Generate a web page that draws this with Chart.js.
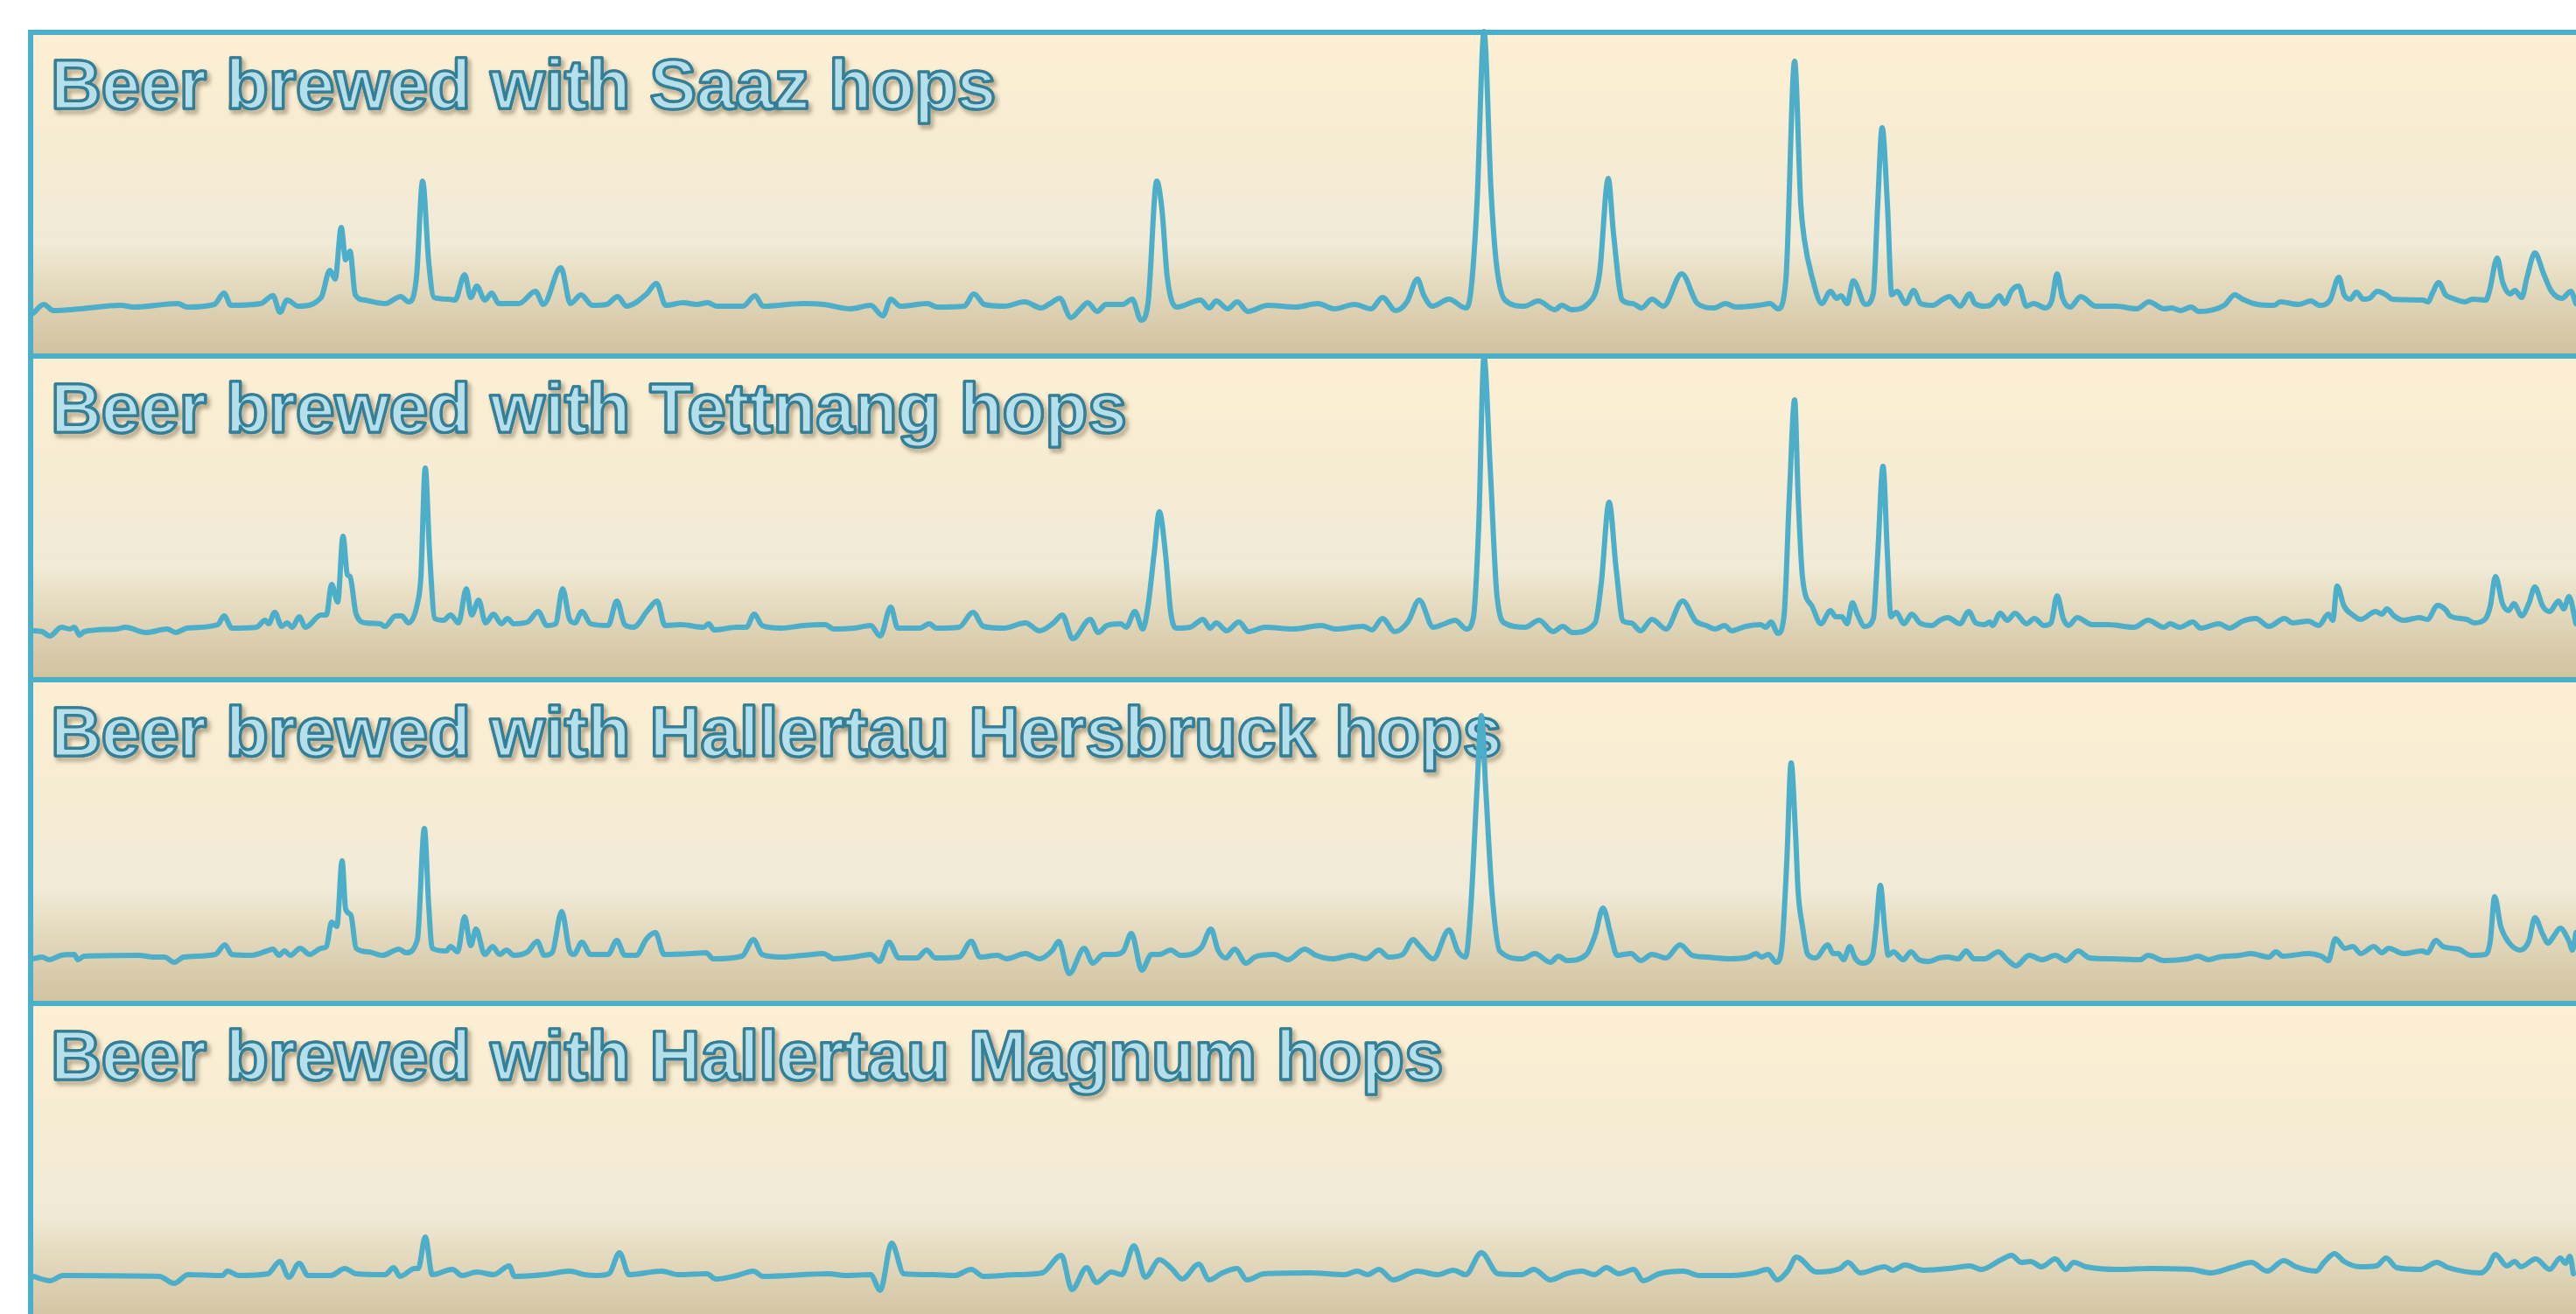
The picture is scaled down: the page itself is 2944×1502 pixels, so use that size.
<!DOCTYPE html>
<html>
<head>
<meta charset="utf-8">
<script src="https://cdn.jsdelivr.net/npm/chart.js@4/dist/chart.umd.min.js"></script>
<style>
  html, body { margin: 0; padding: 0; background: #fff; overflow: hidden; }
  #wrap { position: relative; width: 2944px; height: 1502px; }
  .frame {
    position: absolute; left: 32px; width: 2960px; height: 364px;
    border-top: 6px solid #4aafc8; border-left: 6px solid #4aafc8;
  }
  canvas { position: absolute; left: 38px; }
</style>
</head>
<body>
<div id="wrap"></div>
<script>
// spectra: [channel, intensity]
const saazSpectrum = [
  [38,46],[50,56],[61,49],[92,51],[138,55],[153,53],[203,57],[214,53],[245,56],[256,69],[264,55],[298,57],[312,66],[320,47],
  [328,61],[341,54],[367,64],[377,95],[383,85],[390,144],[395,107],[400,117],[406,67],[417,61],[440,57],[458,65],[467,59],
  [476,87],[483,197],[490,104],[496,64],[513,62],[520,61],[531,90],[538,64],[545,77],[554,61],[562,69],[570,57],[593,57],
  [612,71],[621,56],[641,98],[652,57],[664,67],[677,55],[693,56],[706,65],[716,54],[739,68],[750,80],[761,55],[781,58],
  [796,56],[809,58],[819,54],[849,54],[863,66],[872,54],[918,57],[941,56],[972,51],[995,55],[1009,43],[1018,62],[1029,54],
  [1060,57],[1071,53],[1102,54],[1113,68],[1125,56],[1148,54],[1171,59],[1190,52],[1200,57],[1211,63],[1224,41],[1235,51],
  [1243,58],[1254,48],[1264,56],[1283,56],[1294,62],[1304,38],[1312,57],[1322,197],[1328,164],[1334,87],[1345,53],[1372,61],
  [1382,52],[1390,60],[1403,51],[1414,59],[1426,48],[1449,55],[1481,53],[1506,57],[1525,51],[1548,56],[1567,51],[1580,64],
  [1595,49],[1608,59],[1620,85],[1627,67],[1637,54],[1656,62],[1675,52],[1681,71],[1688,171],[1696,368],[1704,187],[1710,104],
  [1720,61],[1742,54],[1758,60],[1777,50],[1785,55],[1796,50],[1815,57],[1828,91],[1838,200],[1844,137],[1854,61],[1866,57],
  [1876,52],[1888,62],[1901,54],[1922,91],[1940,57],[1959,52],[1972,57],[1984,53],[2010,55],[2023,57],[2032,51],[2041,84],
  [2051,334],[2058,171],[2062,131],[2071,87],[2082,57],[2092,71],[2099,63],[2104,66],[2111,57],[2118,83],[2132,56],[2141,69],
  [2146,171],[2151,258],[2157,171],[2162,67],[2168,71],[2178,57],[2187,72],[2195,57],[2209,55],[2219,61],[2228,65],[2240,54],
  [2251,68],[2257,57],[2269,54],[2276,56],[2285,66],[2291,57],[2299,72],[2307,77],[2316,54],[2324,57],[2338,52],[2345,61],
  [2351,91],[2357,64],[2366,53],[2378,65],[2395,54],[2418,54],[2442,51],[2456,59],[2473,51],[2482,52],[2492,49],[2504,53],
  [2513,48],[2542,55],[2554,67],[2563,62],[2580,56],[2599,55],[2606,59],[2627,56],[2641,60],[2651,55],[2663,61],[2673,87],
  [2679,67],[2686,62],[2693,70],[2701,62],[2708,63],[2717,71],[2727,67],[2734,62],[2769,61],[2775,59],[2780,69],[2787,81],
  [2795,67],[2803,63],[2817,59],[2826,62],[2841,61],[2845,71],[2854,109],[2860,82],[2869,68],[2874,72],[2882,64],[2888,87],
  [2897,115],[2907,91],[2916,71],[2928,63],[2938,71],[2944,57]
];

const tettnangSpectrum = [
  [38,53],[48,52],[57,47],[70,57],[80,55],[85,57],[91,48],[96,52],[134,55],[143,57],[167,51],[191,55],[201,51],[214,56],
  [249,60],[256,70],[265,56],[293,57],[303,65],[307,61],[314,74],[322,58],[328,62],[334,57],[342,69],[349,57],[367,71],
  [373,71],[379,106],[386,86],[392,161],[397,117],[400,115],[407,72],[418,62],[434,61],[440,58],[452,70],[459,70],[467,62],
  [477,84],[481,114],[486,239],[491,141],[497,67],[507,65],[515,71],[524,62],[533,101],[539,71],[547,88],[555,62],[564,72],
  [573,61],[580,67],[587,61],[603,63],[615,75],[625,59],[635,61],[643,101],[651,66],[657,62],[665,75],[675,61],[695,59],
  [705,87],[714,60],[724,57],[740,76],[751,87],[760,59],[778,60],[804,57],[810,61],[816,54],[842,57],[853,57],[862,72],
  [871,59],[893,56],[918,59],[943,60],[953,55],[976,56],[995,59],[1006,47],[1018,80],[1026,56],[1051,56],[1062,61],[1070,56],
  [1096,57],[1112,74],[1124,58],[1147,56],[1172,62],[1188,53],[1204,62],[1214,71],[1226,44],[1246,66],[1255,51],[1265,59],
  [1281,61],[1287,57],[1297,75],[1306,55],[1312,81],[1319,141],[1325,189],[1332,141],[1338,74],[1344,56],[1360,57],[1375,66],
  [1383,56],[1390,62],[1402,53],[1416,63],[1427,52],[1446,57],[1478,55],[1510,59],[1526,55],[1558,58],[1568,54],[1580,67],
  [1594,52],[1609,63],[1622,88],[1638,57],[1651,61],[1663,65],[1676,55],[1684,69],[1690,174],[1696,366],[1703,241],[1711,91],
  [1721,61],[1743,57],[1759,65],[1775,52],[1786,58],[1797,51],[1823,62],[1830,107],[1839,200],[1847,124],[1855,64],[1864,62],
  [1875,53],[1888,66],[1904,55],[1923,87],[1938,64],[1950,59],[1960,55],[1971,59],[1979,53],[1995,58],[2012,60],[2018,57],
  [2024,63],[2032,50],[2039,71],[2045,207],[2051,317],[2055,207],[2060,114],[2071,81],[2081,61],[2092,76],[2098,69],[2105,69],
  [2111,61],[2117,85],[2123,71],[2131,58],[2141,67],[2146,141],[2152,241],[2157,141],[2161,69],[2167,74],[2176,61],[2185,72],
  [2194,62],[2208,59],[2217,65],[2226,68],[2240,61],[2250,75],[2258,62],[2268,60],[2274,63],[2277,59],[2286,73],[2294,65],
  [2303,73],[2316,61],[2325,67],[2336,59],[2344,62],[2351,93],[2358,67],[2364,59],[2374,68],[2391,60],[2409,60],[2439,57],
  [2455,65],[2473,57],[2480,61],[2491,57],[2506,63],[2515,56],[2536,61],[2548,56],[2563,64],[2578,67],[2593,58],[2611,67],
  [2620,62],[2638,64],[2650,59],[2661,72],[2666,65],[2671,104],[2679,81],[2689,71],[2698,66],[2715,75],[2722,72],[2728,78],
  [2736,70],[2747,65],[2765,68],[2774,66],[2786,82],[2795,77],[2800,70],[2819,66],[2828,62],[2840,66],[2846,81],[2852,115],
  [2860,84],[2867,76],[2873,84],[2882,70],[2890,84],[2897,103],[2906,81],[2914,75],[2924,87],[2930,78],[2936,92],[2944,61]
];

const hersbruckSpectrum = [
  [38,48],[48,50],[56,47],[70,52],[85,53],[89,47],[96,51],[159,52],[175,50],[188,50],[199,44],[210,50],[246,53],[257,64],
  [265,53],[287,52],[305,57],[312,59],[319,52],[325,57],[332,52],[343,60],[354,53],[367,60],[373,62],[379,90],[385,85],
  [391,160],[395,105],[401,98],[407,60],[421,56],[437,52],[456,59],[464,55],[477,70],[485,197],[490,108],[494,60],[510,57],
  [515,62],[523,56],[531,96],[538,63],[544,82],[554,53],[563,62],[571,53],[579,58],[587,52],[603,56],[614,68],[622,52],
  [631,55],[642,102],[651,57],[656,53],[665,67],[675,53],[695,53],[705,69],[714,52],[727,52],[739,71],[749,78],[759,53],
  [791,54],[807,55],[815,48],[848,51],[861,70],[871,53],[893,50],[918,52],[941,54],[953,48],[976,50],[995,53],[1005,45],
  [1016,67],[1027,49],[1048,49],[1059,58],[1069,49],[1096,50],[1110,68],[1120,50],[1140,52],[1150,48],[1172,54],[1188,48],
  [1203,58],[1210,68],[1222,31],[1239,60],[1249,43],[1261,53],[1274,53],[1284,57],[1293,77],[1305,35],[1316,53],[1325,53],
  [1338,58],[1349,52],[1373,61],[1384,82],[1392,58],[1401,49],[1411,59],[1424,43],[1434,50],[1456,53],[1472,47],[1491,59],
  [1504,52],[1523,48],[1545,52],[1561,48],[1576,58],[1587,50],[1603,53],[1615,70],[1622,63],[1638,48],[1656,81],[1666,57],
  [1675,50],[1681,108],[1688,242],[1693,326],[1698,242],[1705,125],[1714,57],[1740,48],[1754,54],[1772,44],[1781,51],[1791,46],
  [1813,53],[1823,75],[1832,106],[1841,75],[1848,52],[1864,54],[1875,46],[1888,53],[1904,49],[1920,64],[1934,52],[1950,50],
  [1976,48],[1998,50],[2007,54],[2013,50],[2021,53],[2030,44],[2036,58],[2042,158],[2047,272],[2052,192],[2055,125],[2060,85],
  [2066,53],[2075,49],[2089,64],[2095,54],[2101,54],[2107,47],[2114,62],[2120,49],[2128,43],[2140,52],[2144,82],[2149,132],
  [2154,82],[2158,52],[2164,56],[2175,47],[2184,56],[2193,47],[2205,45],[2216,49],[2226,50],[2238,48],[2247,57],[2256,48],
  [2268,48],[2284,56],[2294,47],[2304,40],[2319,52],[2334,47],[2349,52],[2361,46],[2375,57],[2388,49],[2415,48],[2446,47],
  [2455,52],[2473,46],[2500,48],[2512,51],[2524,47],[2536,50],[2560,52],[2572,54],[2593,50],[2601,56],[2609,51],[2620,52],
  [2638,54],[2653,51],[2661,46],[2669,71],[2680,60],[2689,62],[2698,54],[2713,62],[2722,55],[2730,60],[2747,54],[2768,57],
  [2774,55],[2784,69],[2792,62],[2810,59],[2824,52],[2840,53],[2846,68],[2851,119],[2858,85],[2867,67],[2880,58],[2890,68],
  [2897,95],[2906,76],[2912,66],[2918,73],[2926,83],[2936,68],[2940,58],[2944,78]
];

const magnumSpectrum = [
  [38,55],[57,50],[72,56],[182,55],[199,47],[215,57],[254,56],[260,61],[273,56],[306,58],[320,72],[330,54],[342,70],[352,56],
  [378,56],[394,64],[407,58],[440,57],[450,65],[457,55],[474,64],[478,64],[486,100],[494,57],[517,63],[528,56],[545,60],
  [564,57],[582,67],[588,55],[622,57],[651,61],[668,57],[681,56],[696,58],[708,82],[719,57],[756,61],[775,57],[808,58],
  [818,52],[842,56],[861,61],[872,55],[947,58],[966,56],[995,57],[1006,39],[1019,93],[1033,58],[1067,57],[1091,56],[1110,63],
  [1124,55],[1162,57],[1191,59],[1213,79],[1225,40],[1242,65],[1253,48],[1270,60],[1282,57],[1296,90],[1309,54],[1325,74],
  [1339,64],[1351,52],[1370,69],[1382,51],[1397,59],[1414,64],[1425,51],[1445,58],[1497,59],[1537,57],[1551,61],[1563,57],
  [1576,63],[1592,51],[1620,61],[1643,57],[1661,62],[1675,57],[1693,82],[1712,58],[1739,57],[1753,63],[1772,51],[1790,58],
  [1808,61],[1822,57],[1836,65],[1850,58],[1867,63],[1878,50],[1896,58],[1924,61],[1942,56],[1979,56],[2005,59],[2020,63],
  [2031,51],[2043,61],[2053,77],[2076,60],[2103,64],[2112,71],[2126,59],[2154,66],[2163,62],[2177,68],[2198,62],[2228,64],
  [2251,67],[2264,63],[2287,74],[2299,79],[2310,71],[2321,72],[2333,66],[2349,75],[2361,63],[2370,71],[2384,66],[2421,63],
  [2458,64],[2504,63],[2527,59],[2550,65],[2573,71],[2591,61],[2610,73],[2624,66],[2647,61],[2656,71],[2668,81],[2679,72],
  [2697,66],[2716,67],[2727,76],[2739,65],[2766,63],[2785,71],[2798,65],[2835,59],[2843,65],[2852,80],[2865,67],[2874,72],
  [2881,66],[2898,75],[2914,63],[2926,76],[2932,70],[2937,78],[2941,58]
];

const panelTitles = [
  'Beer brewed with Saaz hops',
  'Beer brewed with Tettnang hops',
  'Beer brewed with Hallertau Hersbruck hops',
  'Beer brewed with Hallertau Magnum hops',
];
const panelSeries = [saazSpectrum, tettnangSpectrum, hersbruckSpectrum, magnumSpectrum];

const PANEL_STEP = 370;
const PANEL_TOP = 34;
const INNER_H = 364;
const PAD_TOP = 14;

const panelBackground = {
  id: 'panelBackground',
  beforeDraw(chart) {
    const { ctx, chartArea: a } = chart;
    const g = ctx.createLinearGradient(0, a.top, 0, a.bottom);
    g.addColorStop(0, '#fdefd2');
    g.addColorStop(0.66, '#f0ead6');
    g.addColorStop(0.74, '#e8dfc5');
    g.addColorStop(0.88, '#dbcfb0');
    g.addColorStop(1, '#d2c3a0');
    ctx.save();
    ctx.fillStyle = g;
    ctx.fillRect(a.left, a.top, a.right - a.left, a.bottom - a.top);
    ctx.restore();
  }
};

const panelTitle = {
  id: 'panelTitle',
  beforeDatasetsDraw(chart, args, opts) {
    const { ctx, chartArea: a } = chart;
    ctx.save();
    ctx.font = 'bold 80px "Liberation Sans", Arial, sans-serif';
    ctx.textBaseline = 'alphabetic';
    const x = a.left + 20, y = a.top + 84;
    ctx.shadowColor = 'rgba(95, 75, 45, 0.6)';
    ctx.shadowBlur = 5;
    ctx.shadowOffsetX = 3;
    ctx.shadowOffsetY = 4;
    ctx.lineWidth = 3.6;
    ctx.lineJoin = 'round';
    ctx.strokeStyle = '#347f96';
    ctx.strokeText(opts.text, x, y);
    ctx.shadowColor = 'transparent';
    ctx.fillStyle = '#b6dfec';
    ctx.fillText(opts.text, x, y);
    ctx.lineWidth = 3.2;
    ctx.strokeText(opts.text, x, y);
    ctx.restore();
  }
};

const wrap = document.getElementById('wrap');

panelTitles.forEach((title, i) => {
  const frame = document.createElement('div');
  frame.className = 'frame';
  frame.style.top = (PANEL_TOP + i * PANEL_STEP) + 'px';
  wrap.appendChild(frame);
});

panelTitles.forEach((title, i) => {
  const canvas = document.createElement('canvas');
  canvas.width = 2906;
  canvas.height = INNER_H + PAD_TOP;
  canvas.style.top = (PANEL_TOP + 6 + i * PANEL_STEP - PAD_TOP) + 'px';
  canvas.style.zIndex = 1 + i;
  wrap.appendChild(canvas);

  new Chart(canvas, {
    type: 'line',
    data: {
      datasets: [{
        label: title,
        data: panelSeries[i].map(([x, y]) => ({ x, y })),
        borderColor: '#4daec9',
        borderWidth: 6,
        pointRadius: 0,
        cubicInterpolationMode: 'monotone',
        borderJoinStyle: 'round',
        borderCapStyle: 'round',
        clip: false,
      }]
    },
    options: {
      responsive: false,
      animation: false,
      devicePixelRatio: 1,
      layout: { padding: { top: PAD_TOP, left: 0, right: 0, bottom: 0 } },
      scales: {
        x: { type: 'linear', min: 38, max: 2944, display: false },
        y: { min: 0, max: INNER_H, display: false },
      },
      plugins: {
        legend: { display: false },
        tooltip: { enabled: false },
        panelTitle: { text: title },
      }
    },
    plugins: [panelBackground, panelTitle]
  });
});
</script>
</body>
</html>
